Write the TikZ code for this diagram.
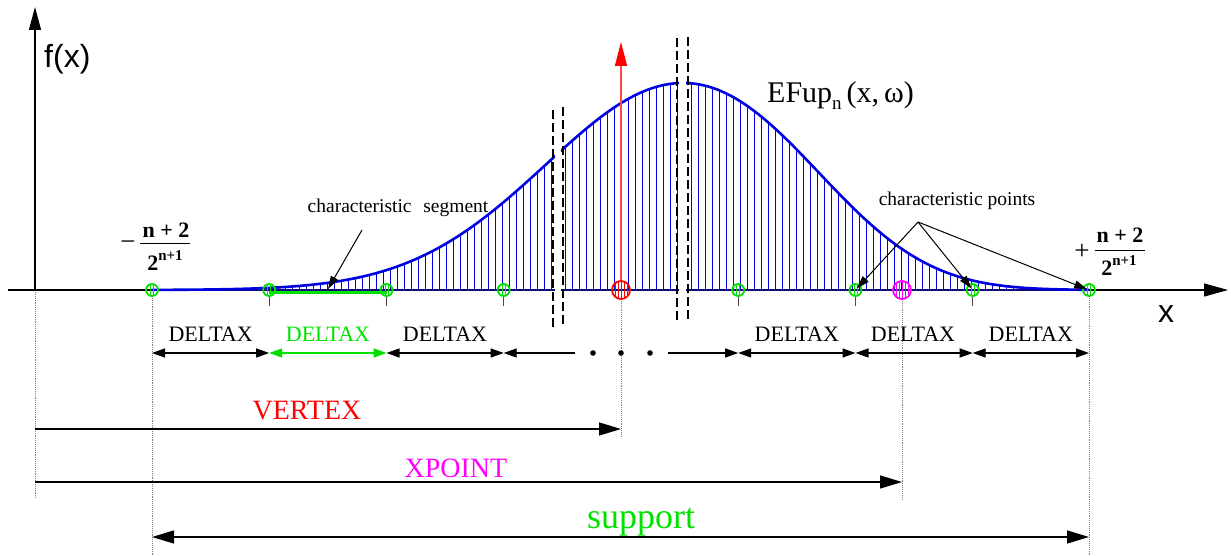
\documentclass[tikz,border=0pt]{standalone}
\usepackage{fontspec}
\setmainfont{Liberation Serif}
\newfontfamily\arialfont{Liberation Sans}
\usetikzlibrary{arrows.meta}
\definecolor{lgreen}{RGB}{0,225,0}
\definecolor{cblue}{RGB}{0,0,225}
\definecolor{bnavy}{RGB}{10,10,120}
\definecolor{cmag}{RGB}{255,0,255}
\definecolor{cred}{RGB}{255,0,0}
\definecolor{lred}{RGB}{255,70,70}
\begin{document}
\begin{tikzpicture}[x=1pt,y=-1pt,
  ax/.style={line width=1.3pt},
  dim/.style={line width=1.3pt, {Triangle[length=13pt,width=9pt]}-{Triangle[length=13pt,width=9pt]}},
  ldim/.style={line width=1.3pt, {Triangle[length=13pt,width=9pt]}-},
  rdim/.style={line width=1.3pt, -{Triangle[length=13pt,width=9pt]}},
  long/.style={line width=1.3pt, -{Triangle[length=22pt,width=13pt]}},
  longb/.style={line width=1.3pt, {Triangle[length=22pt,width=13pt]}-{Triangle[length=22pt,width=13pt]}},
  thin/.style={line width=1pt, -{Triangle[length=13pt,width=8pt]}},
  lbl/.style={inner sep=0pt, anchor=base, font=\fontsize{22}{24}\selectfont},
  big/.style={inner sep=0pt, anchor=base, font=\fontsize{28}{30}\selectfont},
  small/.style={inner sep=0pt, anchor=base, font=\fontsize{19.5}{22}\selectfont},
  dotv/.style={gray, densely dotted, line width=0.9pt},
  tickm/.style={gray!60!black, line width=0.9pt},
  brk/.style={line width=2.2pt, dash pattern=on 9pt off 4pt},
  gpt/.style={circle, draw=lgreen, line width=1.8pt, minimum size=12pt, inner sep=0pt,
    path picture={\draw[lgreen,line width=0.8pt]
      ([xshift=-1.6pt]path picture bounding box.north) -- ([xshift=-1.6pt]path picture bounding box.south)
      ([xshift=1.6pt]path picture bounding box.north) -- ([xshift=1.6pt]path picture bounding box.south);}},
  hpt/.style={circle, draw=#1, line width=1.8pt, minimum size=18pt, inner sep=0pt,
    path picture={\foreach \dx in {-6,-3,0,3,6} \draw[#1,line width=0.8pt]
      ([xshift=\dx pt]path picture bounding box.north) -- ([xshift=\dx pt]path picture bounding box.south);}},
  fr/.style={inner sep=0pt, anchor=base, font=\fontsize{22}{24}\selectfont\bfseries}
]
\useasboundingbox (0,0) rectangle (1231,556);

% points on the axis
\foreach \i/\x in {0/152,1/269.2,2/386.5,3/503.7,4/621,5/738.2,6/855.5,7/972.7,8/1089}{
  \coordinate (p\i) at (\x,290);
  \coordinate (d\i) at (\x,353);
}
\coordinate (xp) at (902,290);

% axes
\coordinate (xa0) at (8,290);
\coordinate (xa1) at (1228,290);
\coordinate (ya0) at (35,290);
\coordinate (ya1) at (35,7);
\draw[ax, -{Triangle[length=24pt,width=13pt]}] (xa0) -- (xa1);
\draw[ax, -{Triangle[length=23pt,width=12pt]}] (ya0) -- (ya1);
\node[inner sep=0pt, anchor=base west, font=\arialfont\fontsize{32}{34}\selectfont] (fx) at (44,68) {f(x)};
\node[inner sep=0pt, anchor=base west, font=\arialfont\fontsize{32}{34}\selectfont] (xl) at (1158,322) {x};

% hatching under the curve
\begin{scope}
\clip plot[domain=152:683, samples=120] (\x, {290-207*exp(-0.5*((\x-683)/137)^2)})
   -- plot[domain=683:1089, samples=120] (\x, {290-207*exp(-0.5*((\x-683)/(137-0.07*(\x-683)))^2)}) -- cycle;
\foreach \x in {152,159,...,1089} \draw[cblue, line width=0.8pt] (\x,291) -- (\x,40);
\end{scope}
\draw[bnavy, line width=2.6pt] (p0) -- (p8);
\draw[cblue, line width=2.6pt] plot[domain=152:683, samples=120] (\x, {290-207*exp(-0.5*((\x-683)/137)^2)})
   -- plot[domain=683:1089, samples=120] (\x, {290-207*exp(-0.5*((\x-683)/(137-0.07*(\x-683)))^2)});

% characteristic segment
\coordinate (gs0) at (269,292.5);
\coordinate (gs1) at (387,292.5);
\draw[lgreen, line width=3pt] (gs0) -- (gs1);

% breaks
\fill[white] (554.6,95) rectangle (561.4,297);
\fill[white] (678.6,30) rectangle (686.4,297);
\draw[brk] (553,110) -- (553,327);
\draw[brk] (563,107) -- (563,325);
\draw[brk] (677,38) -- (677,322);
\draw[brk] (688,37) -- (688,320);

% dotted guides and ticks
\draw[dotv] (35,292) -- (35,498);
\draw[dotv] (152,296) -- (152,556);
\draw[dotv] (621,299) -- (621,436);
\draw[dotv] (902,299) -- (902,500);
\draw[dotv] (1089,296) -- (1089,556);
\foreach \i in {1,2,3,5,6,7} \draw[tickm] (p\i) ++(0,6) -- ++(0,10);

% points
\foreach \i in {0,1,2,3,5,6,7,8} \node[gpt] (g\i) at (p\i) {};
\node[hpt=cred] (rc) at (p4) {};
\node[hpt=cmag] (mc) at (xp) {};

% vertex arrow
\coordinate (vtop) at (621,42);
\draw[lred, line width=1.5pt, -{Triangle[length=24pt,width=12pt,color=cred,fill=cred]}] (rc.north) -- (vtop);

% labels on the curve
\node[inner sep=0pt, anchor=base west, font=\fontsize{30}{32}\selectfont] (ef) at (767,103) {EFup\raisebox{-7pt}{\fontsize{19}{20}\selectfont n}\,(x,\,ω)};
\node[small] (cst) at (398,213) {characteristic\hspace{0.6em}segment};
\coordinate (cs0) at (362,230);
\coordinate (cs1) at (328,289);
\draw[thin] (cs0) -- (cs1);
\node[small] (cpt) at (957,205) {characteristic points};
\coordinate (cp) at (918,222);
\draw[thin, shorten >=2pt] (cp) -- (g6.center);
\draw[thin, shorten >=2pt] (cp) -- (g7.center);
\draw[thin, shorten >=2pt] (cp) -- (g8.center);

% fractions
\node[inner sep=0pt, anchor=base, font=\fontsize{27}{28}\selectfont] (lm) at (128,251) {−};
\node[fr] (ln) at (166,237) {n + 2};
\node[fr] (ld) at (165,270) {2\raisebox{10pt}{\fontsize{15}{16}\selectfont n+1}};
\draw[line width=0.8pt] (140,243) -- (190,243);
\node[inner sep=0pt, anchor=base, font=\fontsize{27}{28}\selectfont] (rp) at (1082,259) {+};
\node[fr] (rn) at (1120,242) {n + 2};
\node[fr] (rd) at (1119,275) {2\raisebox{10pt}{\fontsize{15}{16}\selectfont n+1}};
\draw[line width=0.8pt] (1095,250) -- (1145,250);

% DELTAX row
\coordinate (m1) at (575,353);
\coordinate (m2) at (668,353);
\draw[dim] (d0) -- (d1);
\draw[dim, lgreen] (d1) -- (d2);
\draw[dim] (d2) -- (d3);
\draw[ldim] (d3) -- (m1);
\fill (593,353) circle (2.8pt) (621,353) circle (2.8pt) (650,353) circle (2.8pt);
\draw[rdim] (m2) -- (d5);
\draw[dim] (d5) -- (d6);
\draw[dim] (d6) -- (d7);
\draw[dim] (d7) -- (d8);
\node[lbl] (dl0) at (210.6,341) {DELTAX};
\node[lbl, text=lgreen] (dl1) at (328,341) {DELTAX};
\node[lbl] (dl2) at (445,341) {DELTAX};
\node[lbl] (dl5) at (796.8,341) {DELTAX};
\node[lbl] (dl6) at (913,341) {DELTAX};
\node[lbl] (dl7) at (1030.8,341) {DELTAX};

% bottom dimensions
\coordinate (v0) at (35,429);
\coordinate (v1) at (621,429);
\coordinate (x0) at (35,482);
\coordinate (x1) at (902,482);
\coordinate (s0) at (152,537);
\coordinate (s1) at (1089,537);
\draw[long] (v0) -- (v1);
\draw[long] (x0) -- (x1);
\draw[longb] (s0) -- (s1);
\node[big, text=cred] (vl) at (307,419) {VERTEX};
\node[big, text=cmag] (xl2) at (456,477) {XPOINT};
\node[inner sep=0pt, anchor=base, font=\fontsize{36}{38}\selectfont, text=lgreen] (sl) at (641,528) {support};
\end{tikzpicture}
\end{document}
